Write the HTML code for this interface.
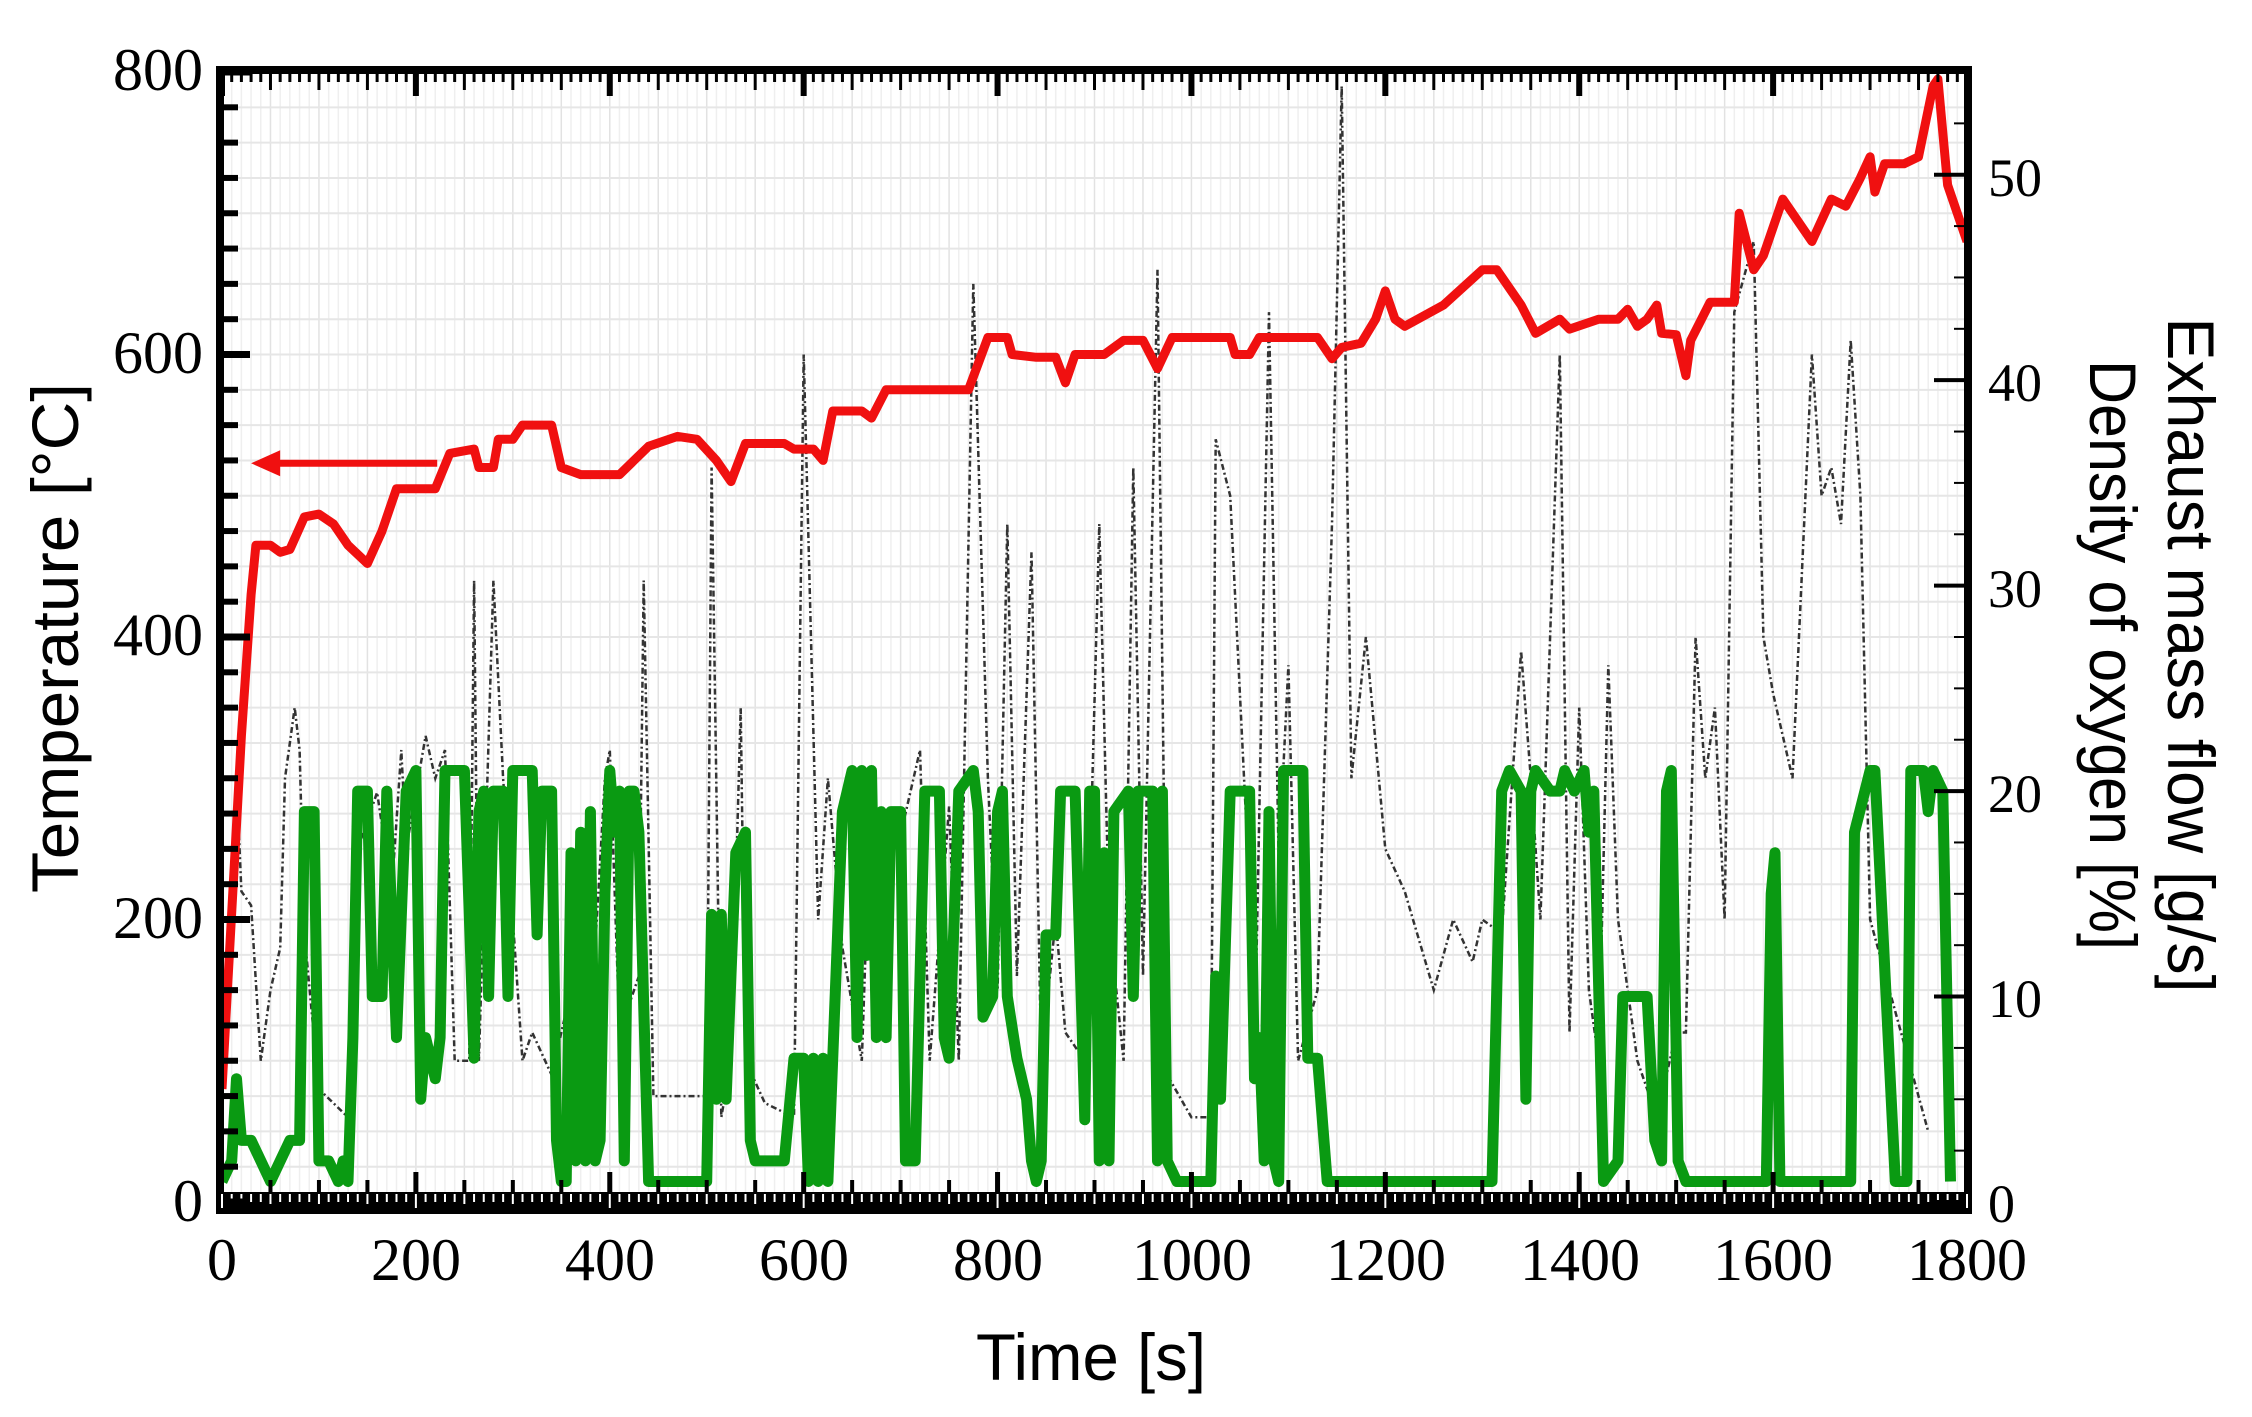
<!DOCTYPE html>
<html><head><meta charset="utf-8"><style>
html,body{margin:0;padding:0;background:#fff;}
svg{display:block;}
.tk{font-family:"Liberation Serif",serif;font-size:60px;fill:#000;}
.tr{font-family:"Liberation Serif",serif;font-size:54px;fill:#000;}
.tt{font-family:"Liberation Sans Narrow","Liberation Sans",sans-serif;font-size:66px;fill:#000;}
</style></head><body>
<svg id="s" width="2252" height="1417" viewBox="0 0 2252 1417" xmlns="http://www.w3.org/2000/svg">
<g id="grid"></g>
<g id="series"></g>
<g id="axes"></g>
<g>
<text class="tk" x="203" y="90" text-anchor="end">800</text>
<text class="tk" x="203" y="373" text-anchor="end">600</text>
<text class="tk" x="203" y="655" text-anchor="end">400</text>
<text class="tk" x="203" y="938" text-anchor="end">200</text>
<text class="tk" x="203" y="1221" text-anchor="end">0</text>

<text class="tk" x="222" y="1280" text-anchor="middle">0</text>
<text class="tk" x="416" y="1280" text-anchor="middle">200</text>
<text class="tk" x="610" y="1280" text-anchor="middle">400</text>
<text class="tk" x="804" y="1280" text-anchor="middle">600</text>
<text class="tk" x="998" y="1280" text-anchor="middle">800</text>
<text class="tk" x="1192" y="1280" text-anchor="middle">1000</text>
<text class="tk" x="1386" y="1280" text-anchor="middle">1200</text>
<text class="tk" x="1580" y="1280" text-anchor="middle">1400</text>
<text class="tk" x="1773" y="1280" text-anchor="middle">1600</text>
<text class="tk" x="1967" y="1280" text-anchor="middle">1800</text>

<text class="tr" x="1988" y="196">50</text>
<text class="tr" x="1988" y="401">40</text>
<text class="tr" x="1988" y="607">30</text>
<text class="tr" x="1988" y="812">20</text>
<text class="tr" x="1988" y="1017">10</text>
<text class="tr" x="1988" y="1222">0</text>

<text class="tt" x="1091" y="1380" text-anchor="middle" textLength="230" lengthAdjust="spacingAndGlyphs">Time [s]</text>
<text class="tt" transform="translate(78,638) rotate(-90)" text-anchor="middle" textLength="510" lengthAdjust="spacingAndGlyphs">Temperature [°C]</text>
<text class="tt" transform="translate(2168,655) rotate(90)" text-anchor="middle" textLength="675" lengthAdjust="spacingAndGlyphs">Exhaust mass flow [g/s]</text>
<text class="tt" transform="translate(2090,655) rotate(90)" text-anchor="middle" textLength="590" lengthAdjust="spacingAndGlyphs">Density of oxygen [%]</text>
</g>
</svg>
<script>
var NS="http://www.w3.org/2000/svg";
var L=222,R=1967,T=72,B=1202;
function X(t){return L+t*(R-L)/1800;}
function YT(v){return B-v*(B-T)/800;}
function YP(v){return B-v*(B-T)/55;}
function el(p,n,a){var e=document.createElementNS(NS,n);for(var k in a)e.setAttribute(k,a[k]);p.appendChild(e);return e;}
var g=document.getElementById('grid'),s=document.getElementById('series'),ax=document.getElementById('axes');
el(g,'rect',{x:L,y:T,width:R-L,height:B-T,fill:'#fff'});
for(var t=0;t<=1800;t+=10){el(g,'line',{x1:X(t),x2:X(t),y1:T,y2:B,stroke:t%50==0?'#e2e2e2':'#efefef','stroke-width':1.5});}
for(var v=0;v<=800;v+=25){el(g,'line',{x1:L,x2:R,y1:YT(v),y2:YT(v),stroke:'#e6e6e6','stroke-width':2});}
function pts(d,fy){var a=[];for(var i=0;i<d.length;i+=2)a.push(X(d[i]).toFixed(1)+','+fy(d[i+1]).toFixed(1));return a.join(' ');}
var blk=[15,300,20,220,30,210,40,100,50,150,60,180,65,300,75,350,80,320,85,190,100,80,130,60,140,250,160,290,175,220,185,320,190,250,210,330,220,300,230,320,240,100,255,100,260,440,265,100,280,440,290,300,300,200,310,100,320,120,340,90,360,150,375,60,395,300,400,320,410,120,430,160,435,440,445,75,500,75,505,520,515,60,525,100,535,350,540,100,560,70,590,60,600,600,615,200,625,300,640,180,660,100,670,300,680,230,700,260,720,320,730,100,750,280,760,100,775,650,790,300,800,150,810,480,820,160,835,460,845,100,860,200,870,120,890,100,905,480,915,200,930,100,940,520,950,160,965,660,975,90,1000,60,1020,60,1025,540,1040,500,1060,220,1065,100,1080,630,1090,240,1100,380,1110,100,1130,150,1145,480,1155,790,1165,300,1180,400,1200,250,1220,220,1250,150,1270,200,1290,170,1300,200,1320,190,1340,390,1350,300,1360,200,1380,600,1390,120,1400,350,1410,150,1420,100,1430,380,1440,200,1460,100,1480,60,1500,120,1510,120,1520,400,1530,300,1540,350,1550,200,1560,630,1580,680,1590,400,1600,360,1620,300,1640,600,1650,500,1660,520,1670,480,1680,610,1690,500,1700,200,1720,150,1740,100,1760,50];
el(s,'polyline',{points:pts(blk,YT),fill:'none',stroke:'#333','stroke-width':2.5,'stroke-dasharray':'6,3,2,3'});
var grn=[0,1,10,2,15,6,20,3,30,3,40,2,50,1,60,2,70,3,80,3,85,19,95,19,100,2,110,2,120,1,125,2,130,1,135,8,140,20,150,20,155,10,165,10,170,20,180,8,190,20,200,21,205,5,210,8,220,6,225,8,230,21,250,21,260,7,265,19,270,20,275,10,280,20,290,20,295,10,300,21,320,21,325,13,330,20,340,20,345,3,350,1,355,1,360,17,365,2,370,18,375,2,380,19,385,2,390,3,395,15,400,21,405,18,410,20,415,2,420,20,425,20,430,18,440,1,500,1,505,14,510,5,515,14,520,5,530,17,540,18,545,3,550,2,580,2,590,7,600,7,605,1,610,7,615,1,620,7,625,1,640,19,650,21,655,8,660,21,665,12,670,21,675,8,680,19,685,8,690,19,700,19,705,2,715,2,725,20,740,20,745,8,750,7,760,20,775,21,780,19,785,9,795,10,800,19,805,20,810,10,820,7,830,5,835,2,840,1,845,2,850,13,860,13,865,20,880,20,890,4,895,20,900,20,905,2,910,17,915,2,920,19,935,20,940,10,945,20,960,20,965,2,970,20,975,2,985,1,1020,1,1025,11,1030,5,1040,20,1060,20,1065,6,1070,8,1075,2,1080,19,1085,2,1090,1,1095,21,1115,21,1120,7,1130,7,1140,1,1310,1,1320,20,1328,21,1340,20,1345,5,1350,20,1355,21,1370,20,1380,20,1385,21,1395,20,1405,21,1410,18,1415,20,1425,1,1440,2,1445,10,1470,10,1478,3,1485,2,1490,20,1495,21,1502,2,1510,1,1593,1,1598,15,1602,17,1607,1,1680,1,1684,18,1700,21,1705,21,1726,1,1738,1,1742,21,1755,21,1760,19,1765,21,1775,20,1783,1];
el(s,'polyline',{points:pts(grn,YP),fill:'none',stroke:'#0a9a12','stroke-width':11,'stroke-linejoin':'round'});
var red=[0,80,20,330,30,430,35,465,50,465,60,460,70,462,85,485,100,487,115,480,130,465,150,452,165,475,180,505,220,505,235,530,260,533,265,520,280,520,285,540,300,540,310,550,340,550,350,520,370,515,410,515,440,535,470,542,490,540,510,525,525,510,540,537,580,537,590,533,610,533,620,525,630,560,660,560,670,555,685,575,770,575,790,612,810,612,815,600,840,598,860,598,870,580,880,600,910,600,930,610,950,610,965,590,980,612,1040,612,1045,600,1060,600,1070,612,1130,612,1145,597,1155,605,1175,608,1190,625,1200,645,1210,625,1220,620,1260,635,1300,660,1315,660,1340,635,1355,615,1380,625,1390,618,1420,625,1440,625,1450,632,1460,620,1470,625,1480,635,1485,615,1500,614,1510,585,1515,610,1535,637,1560,637,1565,700,1580,660,1590,670,1610,710,1640,680,1660,710,1675,705,1690,725,1700,740,1705,715,1715,735,1735,735,1750,740,1765,790,1770,795,1780,720,1790,700,1800,680];
el(s,'polyline',{points:pts(red,YT),fill:'none',stroke:'#f01010','stroke-width':9,'stroke-linejoin':'round'});
el(s,'line',{x1:X(222),x2:X(48),y1:YT(523),y2:YT(523),stroke:'#f01010','stroke-width':7});
el(s,'polygon',{points:(X(30))+','+YT(523)+' '+(X(60))+','+(YT(523)-13)+' '+(X(60))+','+(YT(523)+13),fill:'#f01010'});
el(ax,'rect',{x:216,y:68,width:8,height:1146,fill:'#000'});
el(ax,'rect',{x:216,y:66,width:1756,height:8,fill:'#000'});
el(ax,'rect',{x:1964,y:66,width:8,height:1148,fill:'#000'});
el(ax,'rect',{x:216,y:1192,width:1756,height:22,fill:'#000'});
for(var t=0;t<=1800;t+=10){var big=t%200==0,mid=t%50==0;
 el(ax,'line',{x1:X(t),x2:X(t),y1:74,y2:74+(big?22:mid?16:8),stroke:'#000','stroke-width':big?6:3});
 el(ax,'line',{x1:X(t),x2:X(t),y1:1194,y2:1194+(big?14:mid?10:8),stroke:'#fff','stroke-width':2});
 if(mid&&!big) el(ax,'line',{x1:X(t),x2:X(t),y1:1192,y2:1180,stroke:'#000','stroke-width':4});
 if(big&&t>0&&t<1800) el(ax,'line',{x1:X(t),x2:X(t),y1:1192,y2:1172,stroke:'#000','stroke-width':5});}
for(var v=0;v<=800;v+=25){var big=v%200==0;el(ax,'line',{x1:224,x2:224+(big?26:14),y1:YT(v),y2:YT(v),stroke:'#000','stroke-width':big?7:6});}
for(var p=0;p<=55;p+=2.5){var big=p%10==0;el(ax,'line',{x1:1964,x2:1964-(big?30:10),y1:YP(p),y2:YP(p),stroke:'#000','stroke-width':big?4:2});}
</script>
</body></html>
